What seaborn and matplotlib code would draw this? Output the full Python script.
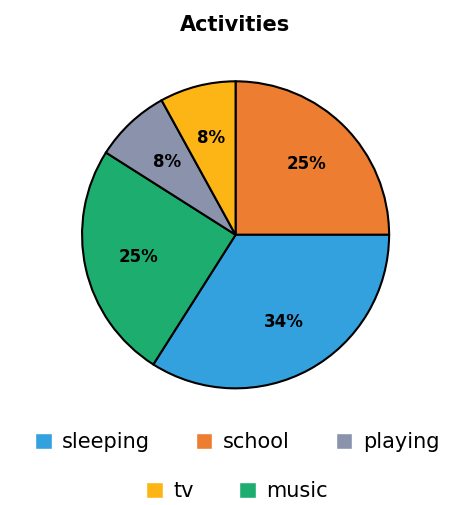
import matplotlib
matplotlib.use("Agg")
import matplotlib.pyplot as plt
import seaborn as sns
from matplotlib.patches import Patch

sns.set_style("white")
plt.rcParams['font.family'] = ['DejaVu Sans']

# clockwise from top
labels = ["school", "sleeping", "music", "playing", "tv"]
values = [25, 34, 25, 8, 8]
colors = ["#ED7D31", "#33A1DE", "#1DAD6E", "#8A93AB", "#FDB515"]
legend_order = ["sleeping", "school", "playing", "tv", "music"]

fig = plt.figure(figsize=(4.74, 5.05), dpi=100)
ax = fig.add_axes([0.092, 0.155, 0.81, 0.76])
ax.pie(values, colors=colors, startangle=90, counterclock=False,
       autopct='%d%%', pctdistance=0.65,
       wedgeprops=dict(edgecolor='black', linewidth=1.5),
       textprops=dict(fontsize=12, fontweight='bold', color='black'))
ax.set_aspect('equal')
fig.text(0.495, 0.95, "Activities", ha='center', va='center', fontsize=15,
         fontweight='bold', color='black')

cmap = dict(zip(labels, colors))
def handles(names):
    return [Patch(facecolor=cmap[n], edgecolor='white', label=n) for n in names]

fig.legend(handles=handles(legend_order[:3]), loc='center', bbox_to_anchor=(0.5, 0.125),
           ncol=3, frameon=False, fontsize=15, handlelength=0.8, handleheight=0.8,
           columnspacing=2.2, handletextpad=0.5, labelcolor='black')
fig.legend(handles=handles(legend_order[3:]), loc='center', bbox_to_anchor=(0.5, 0.027),
           ncol=2, frameon=False, fontsize=15, handlelength=0.8, handleheight=0.8,
           columnspacing=2.2, handletextpad=0.5, labelcolor='black')
fig.savefig("out.png", dpi=100)
